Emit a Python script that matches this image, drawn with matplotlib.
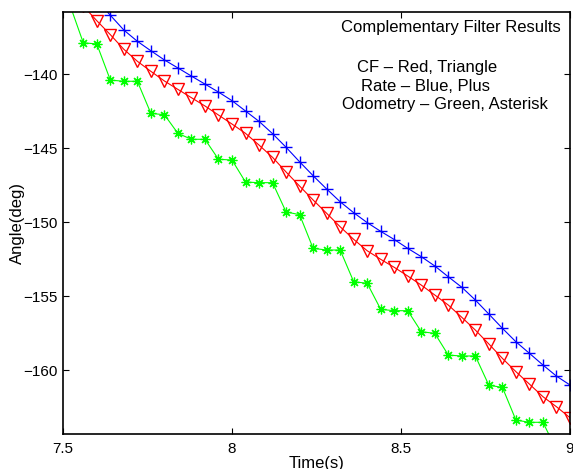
import numpy as np
import matplotlib
matplotlib.use('Agg')
import matplotlib.pyplot as plt

plt.rcParams['font.family'] = ['Liberation Sans', 'DejaVu Sans']

# time samples (s)
t = np.round(np.arange(7.52, 9.001, 0.04), 2)

# Rate - blue plus
rate = [-133.1, -134.0, -135.0, -136.03, -137.03, -137.79, -138.43, -139.05,
        -139.59, -140.14, -140.68, -141.22, -141.80, -142.50, -143.20, -144.03,
        -144.95, -145.93, -146.87, -147.77, -148.63, -149.37, -150.04, -150.63,
        -151.18, -151.78, -152.34, -152.97, -153.70, -154.41, -155.27, -156.22,
        -157.18, -158.09, -158.87, -159.66, -160.41, -161.01]

# CF - red triangle
cf = [-134.5, -135.4, -136.40, -137.34, -138.33, -139.14, -139.82, -140.47,
      -141.04, -141.60, -142.16, -142.77, -143.38, -144.01, -144.80, -145.63,
      -146.62, -147.57, -148.51, -149.41, -150.32, -151.17, -151.94, -152.52,
      -153.06, -153.65, -154.26, -154.93, -155.61, -156.44, -157.30, -158.24,
      -159.21, -160.11, -160.95, -161.80, -162.48, -163.22]

# Odometry - green asterisk
odo = [-135.3, -137.89, -137.97, -140.41, -140.49, -140.49, -142.66, -142.75,
       -144.01, -144.41, -144.41, -145.76, -145.81, -147.30, -147.34, -147.34,
       -149.32, -149.50, -151.78, -151.89, -151.89, -154.03, -154.14, -155.90,
       -155.99, -155.99, -157.41, -157.52, -158.99, -159.05, -159.05, -161.03,
       -161.17, -163.38, -163.53, -163.53, -165.4, -165.5]

fig = plt.figure(figsize=(5.73, 4.69), dpi=100)
ax = fig.add_axes([63 / 573, 35 / 469, 507 / 573, 422 / 469])

ax.plot(t, rate, color='b', lw=0.8, marker='+', ms=8, mew=1.0)
ax.plot(t, cf, color='r', lw=0.8, marker='v', ms=8, mew=1.0, fillstyle='none')
ax.plot(t, odo, color=(0, 1, 0), lw=0.8, marker=(8, 2, 0), ms=7, mew=0.9)

ax.set_xlim(7.5, 9)
ax.set_ylim(-164.32, -135.81)
ax.set_xticks([7.5, 8, 8.5, 9])
ax.set_xticklabels(['7.5', '8', '8.5', '9'])
ax.set_yticks([-160, -155, -150, -145, -140])
ax.tick_params(direction='in', length=4, width=0.8, top=True, right=True,
               labelsize=11)
ax.tick_params(axis='x', pad=6)
ax.tick_params(axis='y', pad=4)
for s in ax.spines.values():
    s.set_linewidth(1.2)

ax.text(8.3216, -136.89, 'Complementary Filter Results', fontsize=12, va='center')
ax.text(8.37, -139.53, 'CF – Red, Triangle', fontsize=12, va='center')
ax.text(8.3817, -140.81, 'Rate – Blue, Plus', fontsize=12, va='center')
ax.text(8.3254, -142.09, 'Odometry – Green, Asterisk', fontsize=12, va='center')

fig.text(17 / 573, 1 - 223 / 469, 'Angle(deg)', rotation=90, fontsize=12,
         ha='center', va='center')
fig.text(316.5 / 573, 1 - 463 / 469, 'Time(s)', fontsize=12,
         ha='center', va='center')

fig.savefig('out.png', dpi=100)
